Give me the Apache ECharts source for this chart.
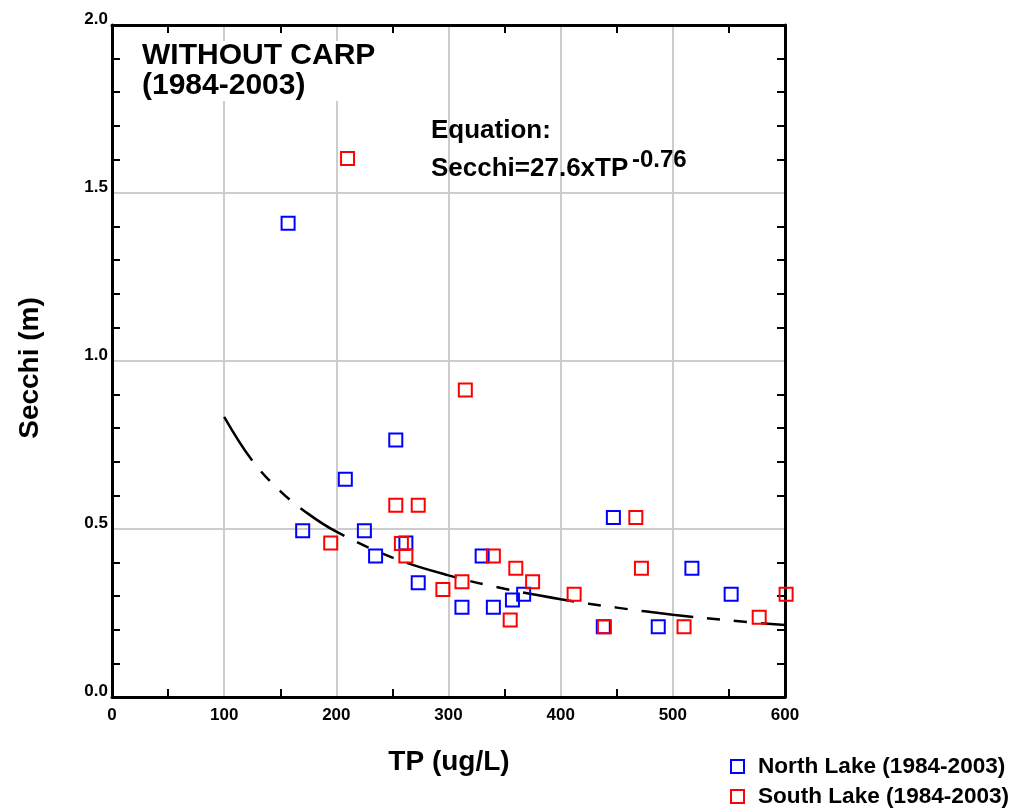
<!DOCTYPE html>
<html>
<head>
<meta charset="utf-8">
<script src="https://cdn.jsdelivr.net/npm/echarts@6/dist/echarts.min.js"></script>
<style>
html,body{margin:0;padding:0;background:#fff;}
#chart{width:1016px;height:810px;}
</style>
</head>
<body>
<div id="chart"></div>
<script>
// ---- data ----
var northTP      = [157, 170, 208, 225, 235, 253, 262, 273, 312, 330, 340, 357, 367, 438, 447, 487, 517, 552];
var northSecchi  = [1.41, 0.495, 0.648, 0.495, 0.42, 0.765, 0.458, 0.34, 0.267, 0.42, 0.267, 0.289, 0.306, 0.209, 0.534, 0.209, 0.383, 0.306];
var southTP      = [210, 195, 253, 273, 258, 262, 295, 312, 315, 340, 360, 355, 375, 412, 439, 467, 472, 510, 577, 601];
var southSecchi  = [1.603, 0.458, 0.571, 0.571, 0.457, 0.42, 0.32, 0.343, 0.914, 0.42, 0.383, 0.229, 0.343, 0.306, 0.209, 0.534, 0.383, 0.209, 0.237, 0.306];
// fitted curve Secchi = 27.6 x TP^-0.76
var fitTP        = [100, 125, 150, 175, 200, 250, 300, 350, 400, 450, 500, 550, 600];
var fitSecchi    = [0.834, 0.704, 0.613, 0.545, 0.492, 0.415, 0.362, 0.322, 0.291, 0.266, 0.245, 0.228, 0.214];
var xTicks = ['0', '100', '200', '300', '400', '500', '600'];
var yTicks = ['0.0', '0.5', '1.0', '1.5', '2.0'];
var seriesNames = ['North Lake (1984-2003)', 'South Lake (1984-2003)'];

function pairs(xs, ys) { return xs.map(function (x, i) { return [x, ys[i]]; }); }

var FONT = 'Liberation Sans, Arial, Helvetica, sans-serif';
var BLUE = '#0000FF', RED = '#FF0000';

var chart = echarts.init(document.getElementById('chart'), null, {renderer: 'canvas'});

function xAxisCfg(pos, labels) {
  return {
    type: 'value', position: pos, min: 0, max: 600, interval: 100,
    axisLine: {show: true, onZero: false, lineStyle: {color: '#000', width: 3}},
    axisTick: {show: false, inside: true},
    minorTick: {show: true, splitNumber: 2, length: 8, lineStyle: {color: '#000', width: 2}},
    splitLine: {show: pos === 'bottom', lineStyle: {color: '#CCCCCC', width: 2}},
    minorSplitLine: {show: false},
    axisLabel: labels ? {
      show: true, margin: 10, color: '#000', fontFamily: FONT, fontWeight: 'bold', fontSize: 17,
      formatter: function (v) { return xTicks[Math.round(v / 100)]; }
    } : {show: false}
  };
}
function yAxisCfg(pos, labels) {
  return {
    type: 'value', position: pos, min: 0, max: 2, interval: 0.5,
    axisLine: {show: true, onZero: false, lineStyle: {color: '#000', width: 3}},
    axisTick: {show: false, inside: true},
    minorTick: {show: true, splitNumber: 5, length: 8, lineStyle: {color: '#000', width: 2}},
    splitLine: {show: pos === 'left', lineStyle: {color: '#CCCCCC', width: 2}},
    minorSplitLine: {show: false},
    axisLabel: labels ? {
      show: true, margin: 4, color: '#000', fontFamily: FONT, fontWeight: 'bold', fontSize: 17,
      verticalAlign: 'bottom', lineHeight: 11,
      formatter: function (v) { return yTicks[Math.round(v / 0.5)]; }
    } : {show: false}
  };
}

function legendCfg(idx, color, top) {
  return {
    orient: 'horizontal', left: 730, top: top, padding: 0,
    itemWidth: 13, itemHeight: 13,
    textStyle: {color: '#000', fontFamily: FONT, fontWeight: 'bold', fontSize: 22.6, padding: [0, 0, 0, 9]},
    data: [{name: seriesNames[idx], icon: 'rect', itemStyle: {color: 'rgba(0,0,0,0)', borderColor: color, borderWidth: 2}}]
  };
}

var option = {
  backgroundColor: '#fff',
  animation: false,
  grid: {left: 112, top: 25, width: 673, height: 672, containLabel: false},
  xAxis: [xAxisCfg('bottom', true), xAxisCfg('top', false)],
  yAxis: [yAxisCfg('left', true), yAxisCfg('right', false)],
  legend: [legendCfg(0, BLUE, 755), legendCfg(1, RED, 785)],
  graphic: [
    {type: 'text', left: 142, top: 41, z: 10,
     style: {text: 'WITHOUT CARP\n(1984-2003)', font: 'bold 30px ' + FONT, lineHeight: 30, fill: '#000', backgroundColor: '#fff'}},
    {type: 'text', left: 431, top: 118, z: 10, style: {text: 'Equation:', font: 'bold 26px ' + FONT, fill: '#000'}},
    {type: 'text', left: 431, top: 156, z: 10, style: {text: 'Secchi=27.6xTP', font: 'bold 26px ' + FONT, fill: '#000'}},
    {type: 'text', left: 632, top: 148, z: 10, style: {text: '-0.76', font: 'bold 24px ' + FONT, fill: '#000'}},
    {type: 'text', x: 449, y: 762, z: 10, style: {text: 'TP (ug/L)', font: 'bold 28px ' + FONT, fill: '#000', align: 'center', verticalAlign: 'middle'}},
    {type: 'text', x: 30, y: 368, z: 10, rotation: Math.PI / 2, style: {text: 'Secchi (m)', font: 'bold 28px ' + FONT, fill: '#000', align: 'center', verticalAlign: 'middle'}}
  ],
  series: [
    {
      name: seriesNames[0], type: 'scatter', xAxisIndex: 0, yAxisIndex: 0,
      symbol: 'rect', symbolSize: 13,
      itemStyle: {color: 'rgba(0,0,0,0)', borderColor: BLUE, borderWidth: 2, opacity: 1},
      data: pairs(northTP, northSecchi), z: 3, clip: false
    },
    {
      name: seriesNames[1], type: 'scatter', xAxisIndex: 0, yAxisIndex: 0,
      symbol: 'rect', symbolSize: 13,
      itemStyle: {color: 'rgba(0,0,0,0)', borderColor: RED, borderWidth: 2, opacity: 1},
      data: pairs(southTP, southSecchi), z: 4, clip: false
    },
    {
      name: 'fit', type: 'line', xAxisIndex: 0, yAxisIndex: 0,
      showSymbol: false, smooth: 0.4, silent: true,
      lineStyle: {color: '#000', width: 2.5, type: [52, 14, 13, 14, 13, 14]},
      data: pairs(fitTP, fitSecchi), z: 2
    }
  ]
};
chart.setOption(option);
</script>
</body>
</html>
